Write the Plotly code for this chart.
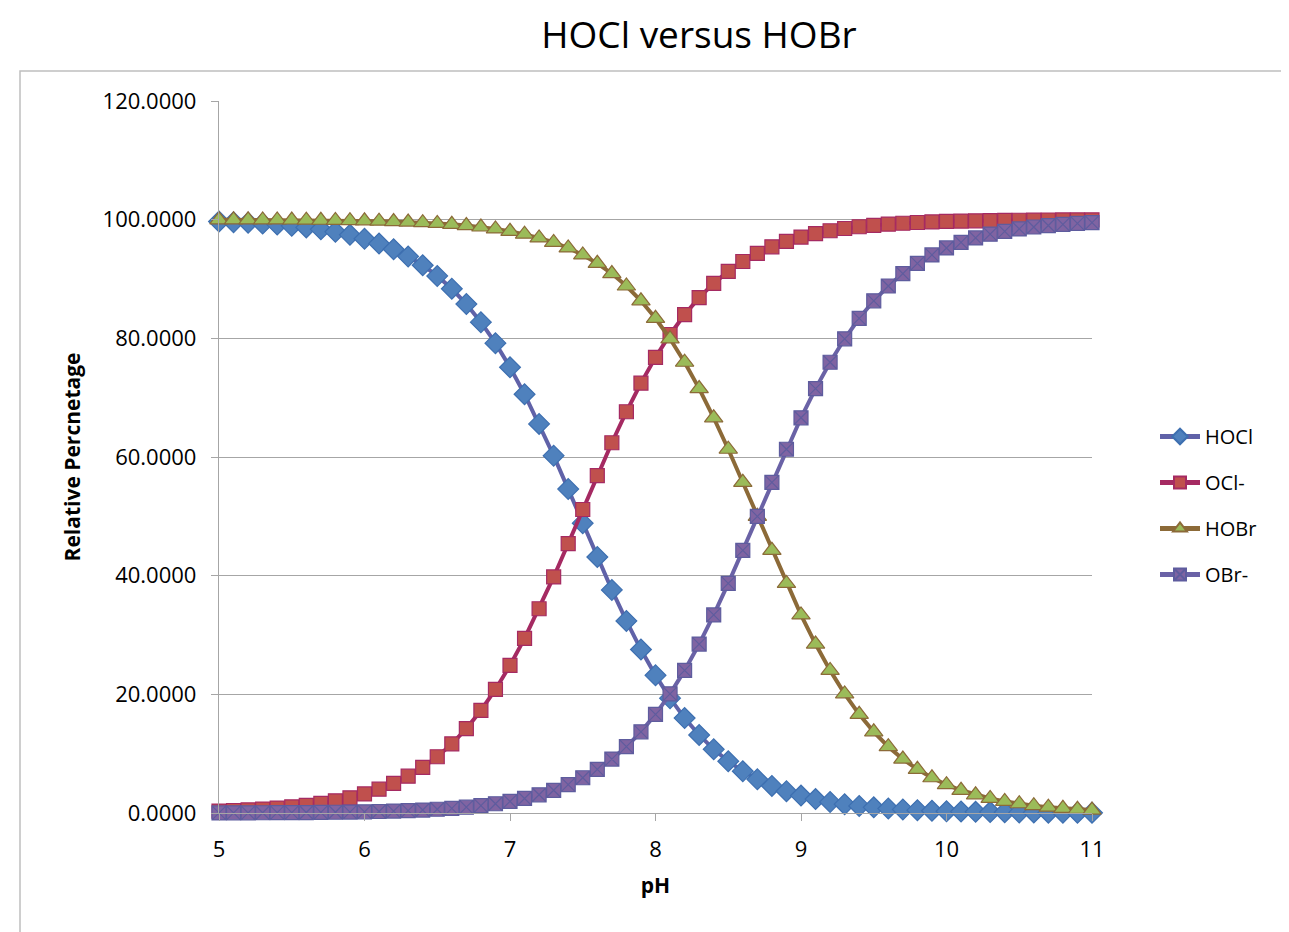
import plotly.graph_objects as go

pH = [5.0, 5.1, 5.2, 5.3, 5.4, 5.5, 5.6, 5.7, 5.8, 5.9,
      6.0, 6.1, 6.2, 6.3, 6.4, 6.5, 6.6, 6.7, 6.8, 6.9,
      7.0, 7.1, 7.2, 7.3, 7.4, 7.5, 7.6, 7.7, 7.8, 7.9,
      8.0, 8.1, 8.2, 8.3, 8.4, 8.5, 8.6, 8.7, 8.8, 8.9,
      9.0, 9.1, 9.2, 9.3, 9.4, 9.5, 9.6, 9.7, 9.8, 9.9,
      10.0, 10.1, 10.2, 10.3, 10.4, 10.5, 10.6, 10.7, 10.8, 10.9, 11.0]

HOCl = [99.67, 99.58, 99.48, 99.34, 99.17, 98.96, 98.70, 98.37, 97.95, 97.44,
        96.79, 95.99, 95.01, 93.80, 92.32, 90.52, 88.35, 85.77, 82.72, 79.18,
        75.13, 70.58, 65.58, 60.22, 54.59, 48.85, 43.14, 37.60, 32.37, 27.55,
        23.20, 19.35, 16.00, 13.15, 10.73, 8.72, 7.05, 5.68, 4.57, 3.66,
        2.93, 2.34, 1.87, 1.49, 1.19, 0.95, 0.75, 0.60, 0.48, 0.38,
        0.30, 0.24, 0.19, 0.15, 0.12, 0.10, 0.08, 0.06, 0.05, 0.04, 0.03]

OCl = [0.33, 0.42, 0.52, 0.66, 0.83, 1.04, 1.30, 1.63, 2.05, 2.56,
       3.21, 4.01, 4.99, 6.20, 7.68, 9.48, 11.65, 14.23, 17.28, 20.82,
       24.87, 29.42, 34.42, 39.78, 45.41, 51.15, 56.86, 62.40, 67.63, 72.45,
       76.80, 80.65, 84.00, 86.85, 89.27, 91.28, 92.95, 94.32, 95.43, 96.34,
       97.07, 97.66, 98.13, 98.51, 98.81, 99.05, 99.25, 99.40, 99.52, 99.62,
       99.70, 99.76, 99.81, 99.85, 99.88, 99.90, 99.92, 99.94, 99.95, 99.96, 99.97]

HOBr = [99.98, 99.97, 99.97, 99.96, 99.95, 99.94, 99.92, 99.90, 99.87, 99.84,
        99.80, 99.75, 99.68, 99.60, 99.50, 99.37, 99.21, 99.01, 98.76, 98.44,
        98.04, 97.55, 96.93, 96.17, 95.23, 94.06, 92.64, 90.91, 88.82, 86.32,
        83.37, 79.92, 75.97, 71.53, 66.61, 61.31, 55.73, 50.00, 44.27, 38.69,
        33.39, 28.47, 24.03, 20.08, 16.63, 13.68, 11.18, 9.09, 7.36, 5.94,
        4.77, 3.83, 3.07, 2.45, 1.96, 1.56, 1.24, 0.99, 0.79, 0.63, 0.50]

OBr = [0.02, 0.03, 0.03, 0.04, 0.05, 0.06, 0.08, 0.10, 0.13, 0.16,
       0.20, 0.25, 0.32, 0.40, 0.50, 0.63, 0.79, 0.99, 1.24, 1.56,
       1.96, 2.45, 3.07, 3.83, 4.77, 5.94, 7.36, 9.09, 11.18, 13.68,
       16.63, 20.08, 24.03, 28.47, 33.39, 38.69, 44.27, 50.00, 55.73, 61.31,
       66.61, 71.53, 75.97, 79.92, 83.37, 86.32, 88.82, 90.91, 92.64, 94.06,
       95.23, 96.17, 96.93, 97.55, 98.04, 98.44, 98.76, 99.01, 99.21, 99.37, 99.50]

y_ticks = [0, 20, 40, 60, 80, 100, 120]
y_tick_text = ["0.0000", "20.0000", "40.0000", "60.0000", "80.0000", "100.0000", "120.0000"]
x_ticks = [5, 6, 7, 8, 9, 10, 11]

FONT = "Open Sans"

series = [
    ("HOCl", HOCl, "#6062A8", "diamond", "#4F81BD", "#3D6FB0", 16),
    ("OCl-", OCl, "#A52A62", "square", "#C0504D", "#A52A62", 14),
    ("HOBr", HOBr, "#8C6A38", "triangle-up", "#9BBB59", "#8C6A38", 16),
    ("OBr-", OBr, "#6A62A6", "square-x", "#8064A2", "#5E5C9E", 14),
]

fig = go.Figure()
for name, vals, lc, sym, mc, mlc, ms in series:
    fig.add_trace(go.Scatter(
        x=pH, y=vals, name=name, legendgroup=name, mode="lines+markers",
        line=dict(color=lc, width=4),
        marker=dict(symbol=sym, color=mc, size=ms, line=dict(color=mlc, width=1.2)),
        cliponaxis=False,
    ))

# figure coordinates (screen minus 8px page margin)
W, H = 1281, 924
L, R, T, B = 211, 1084, 93, 805

def px_x(p):
    return (p - L) / (R - L)

def px_y(p):
    return (B - p) / (B - T)

fig.update_layout(
    width=W, height=H,
    margin=dict(l=L, r=W - R, t=T, b=H - B),
    paper_bgcolor="white", plot_bgcolor="white",
    font=dict(family=FONT, color="black"),
    title=dict(text="HOCl versus HOBr", x=px_x(691), xref="paper", xanchor="center",
               y=1 - 27 / H, yanchor="middle", font=dict(size=37, family=FONT)),
    showlegend=True,
    legend=dict(x=px_x(1147), xref="paper", y=px_y(409), yref="paper",
                xanchor="left", yanchor="top", bgcolor="rgba(0,0,0,0)",
                font=dict(size=20, family=FONT), tracegroupgap=17,
                itemsizing="constant", itemwidth=40),
    xaxis=dict(range=[5, 11], tickvals=x_ticks, ticktext=[str(v) for v in x_ticks],
               showgrid=False, zeroline=False, showline=True, linecolor="#A6A6A6",
               linewidth=1.3, ticks="outside", ticklen=7, tickcolor="#A6A6A6",
               ticklabelstandoff=9,
               tickfont=dict(size=22, family=FONT),
               title=dict(text="<b>pH</b>", font=dict(size=21, family=FONT), standoff=16)),
    yaxis=dict(range=[0, 120], tickvals=y_ticks, ticktext=y_tick_text,
               showgrid=True, gridcolor="#A6A6A6", gridwidth=1, zeroline=False,
               showline=True, linecolor="#A6A6A6", linewidth=1.3,
               ticks="outside", ticklen=7, tickcolor="#A6A6A6",
               ticklabelstandoff=10,
               tickfont=dict(size=22, family=FONT),
               title=dict(text="<b>Relative Percnetage</b>", font=dict(size=21, family=FONT), standoff=16)),
    shapes=[dict(type="rect", xref="paper", yref="paper",
                 x0=px_x(12), x1=px_x(1276), y0=px_y(960), y1=px_y(63),
                 line=dict(color="#BFBFBF", width=1.5), fillcolor="rgba(0,0,0,0)", layer="below")],
)

fig.write_html("out.html")
